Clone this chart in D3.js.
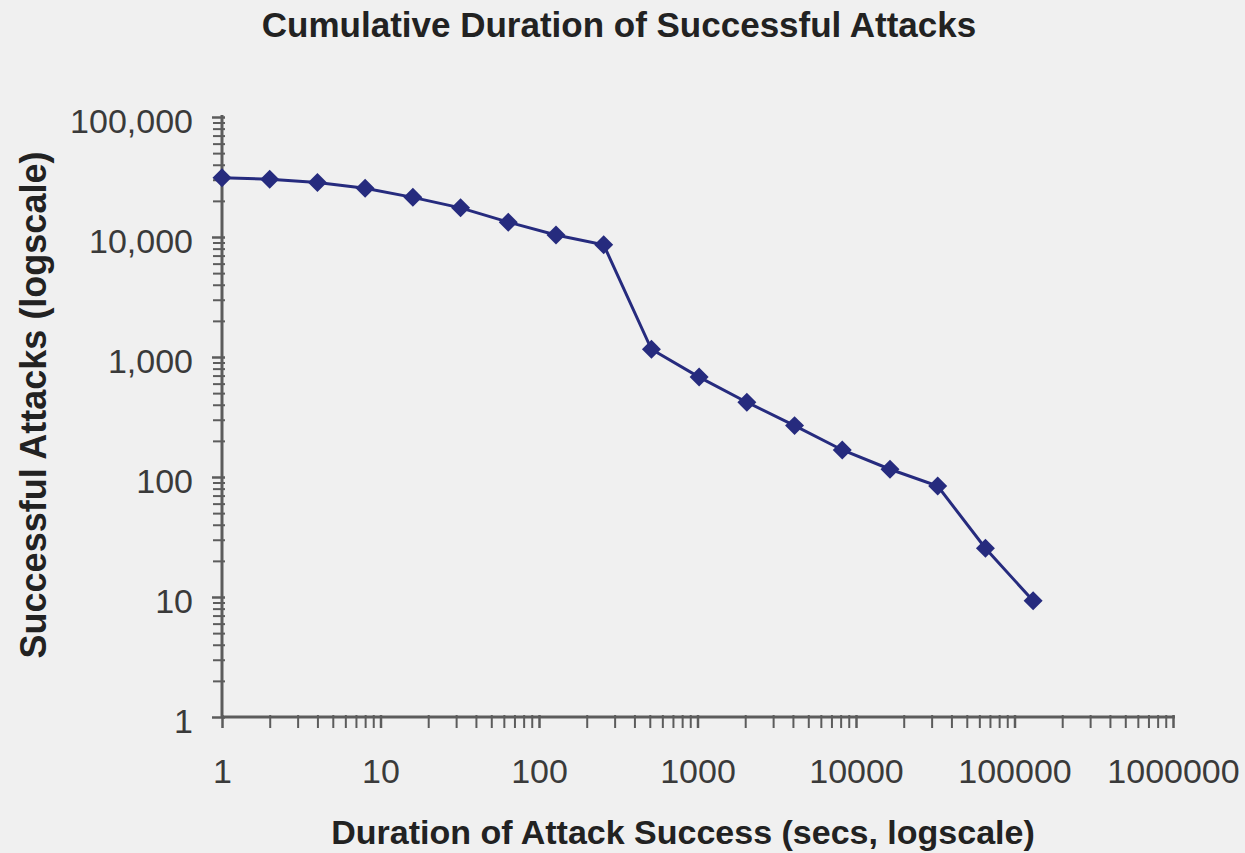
<!DOCTYPE html>
<html>
<head>
<meta charset="utf-8">
<script src="https://cdn.jsdelivr.net/npm/d3@7"></script>
<style>
  html, body { margin: 0; padding: 0; background: #f0f0f0; }
  svg { display: block; }
  text { font-family: "Liberation Sans", Arial, Helvetica, sans-serif; }
</style>
</head>
<body>
<svg id="chart" width="1245" height="853"></svg>
<script>
// ---- data ----
const durations = [1, 2, 4, 8, 16, 32, 64, 128, 256, 512, 1024, 2048, 4096, 8192, 16384, 32768, 65536, 131072];
const attacks = [31200, 30300, 28400, 25500, 21400, 17500, 13300, 10400, 8600, 1160, 680, 420, 268, 168, 116, 84, 25.5, 9.3];
const xTickValues = [1, 10, 100, 1000, 10000, 100000, 1000000];
const xTickLabels = ["1", "10", "100", "1000", "10000", "100000", "1000000"];
const yTickValues = [1, 10, 100, 1000, 10000, 100000];
const yTickLabels = ["1", "10", "100", "1,000", "10,000", "100,000"];
const chartTitle = "Cumulative Duration of Successful Attacks";
const xTitle = "Duration of Attack Success (secs, logscale)";
const yTitle = "Successful Attacks (logscale)";

// ---- layout ----
const svg = d3.select("#chart");
const W = 1245, H = 853;
svg.append("rect").attr("width", W).attr("height", H).attr("fill", "#f0f0f0");

const pLeft = 222, pRight = 1173, pTop = 117, pBottom = 717;
const x = d3.scaleLog().domain([1, 1e6]).range([pLeft, pRight]);
const y = d3.scaleLog().domain([1, 1e5]).range([pBottom, pTop]);

const axisColor = "#5c5c5c";
const textColor = "#3a3a3a";

// minor tick values (2..9 per decade)
const xMinor = [];
for (let e = 0; e < 6; e++) for (let m = 2; m <= 9; m++) xMinor.push(m * Math.pow(10, e));
const yMinor = [];
for (let e = 0; e < 5; e++) for (let m = 2; m <= 9; m++) yMinor.push(m * Math.pow(10, e));

// x minor
const gxm = svg.append("g").attr("transform", `translate(0,${pBottom})`)
  .call(d3.axisBottom(x).tickValues(xMinor).tickFormat("").tickSizeInner(11).tickSizeOuter(0));
gxm.select(".domain").remove();
gxm.selectAll(".tick line").attr("stroke", axisColor).attr("stroke-width", 2).attr("y1", -2);

// y minor
const gym = svg.append("g").attr("transform", `translate(${pLeft},0)`)
  .call(d3.axisLeft(y).tickValues(yMinor).tickFormat("").tickSizeInner(9).tickSizeOuter(0));
gym.select(".domain").remove();
gym.selectAll(".tick line").attr("stroke", axisColor).attr("stroke-width", 2).attr("x1", 3);

// x major
const gx = svg.append("g").attr("transform", `translate(0,${pBottom})`)
  .call(d3.axisBottom(x).tickValues(xTickValues)
    .tickFormat((d, i) => xTickLabels[i]).tickSizeInner(11).tickSizeOuter(0));
gx.select(".domain").attr("stroke", axisColor).attr("stroke-width", 3)
  .attr("d", `M${pLeft},0H${x(1e6) + 2}`);
gx.selectAll(".tick line").attr("stroke", axisColor).attr("stroke-width", 2.5).attr("y1", -2);
gx.selectAll(".tick text")
  .attr("y", 66).attr("dy", null)
  .attr("fill", textColor).attr("font-size", "34px");

// y major
const gy = svg.append("g").attr("transform", `translate(${pLeft},0)`)
  .call(d3.axisLeft(y).tickValues(yTickValues)
    .tickFormat((d, i) => yTickLabels[i]).tickSizeInner(10).tickSizeOuter(0));
gy.select(".domain").attr("stroke", axisColor).attr("stroke-width", 3)
  .attr("d", `M0,${pBottom}V${pTop - 2}`);
gy.selectAll(".tick line").attr("stroke", axisColor).attr("stroke-width", 2.5).attr("x1", 3);
gy.selectAll(".tick text")
  .attr("x", -29).attr("dy", "15px")
  .attr("fill", textColor).attr("font-size", "34px");

// ---- series ----
const pts = durations.map((d, i) => [d, attacks[i]]);
const line = d3.line().x(d => x(d[0])).y(d => y(d[1]));
svg.append("path").datum(pts)
  .attr("d", line)
  .attr("fill", "none")
  .attr("stroke", "#262b7e")
  .attr("stroke-width", 3);

const diamond = d3.symbol().type(d3.symbolDiamond2).size(230);
svg.selectAll("path.marker").data(pts).enter().append("path")
  .attr("class", "marker")
  .attr("d", diamond)
  .attr("transform", d => `translate(${x(d[0])},${y(d[1])})`)
  .attr("fill", "#262b7e");

// ---- titles ----
svg.append("text")
  .attr("x", 619).attr("y", 37)
  .attr("text-anchor", "middle")
  .attr("font-size", "35px").attr("font-weight", "bold")
  .attr("fill", "#222222")
  .text(chartTitle);

svg.append("text")
  .attr("x", 683).attr("y", 844)
  .attr("text-anchor", "middle")
  .attr("font-size", "34px").attr("font-weight", "bold")
  .attr("fill", "#222222")
  .text(xTitle);

svg.append("text")
  .attr("transform", "translate(46,405) rotate(-90)")
  .attr("text-anchor", "middle")
  .attr("font-size", "36px").attr("font-weight", "bold")
  .attr("fill", "#222222")
  .text(yTitle);
</script>
</body>
</html>
